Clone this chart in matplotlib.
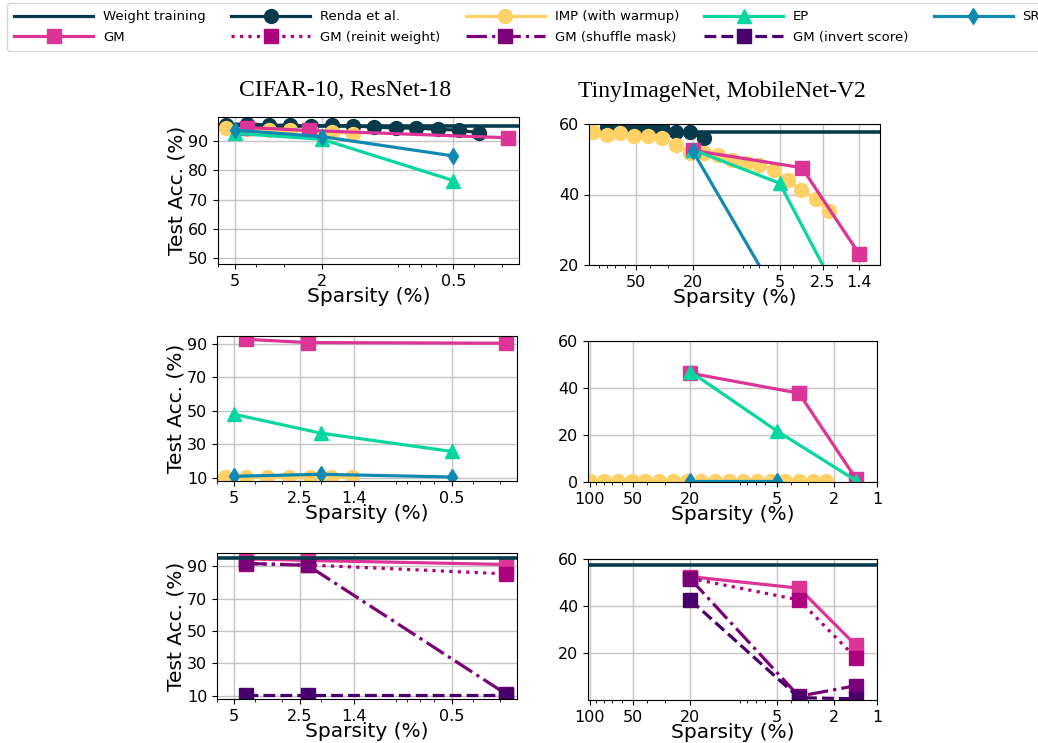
import matplotlib
matplotlib.use("Agg")
import matplotlib.pyplot as plt
from matplotlib.ticker import NullFormatter
from matplotlib.lines import Line2D

# ---------------- data ----------------
# colours
C_WT = "#073B4C"
C_IMP = "#FFD166"
C_EP = "#06D6A0"
C_SR = "#118AB2"
C_GM = "#DD3497"
C_REINIT = "#AE017E"
C_SHUFFLE = "#7A0177"
C_INVERT = "#49006A"

# CIFAR-10, ResNet-18
cifar_wt = 95.1
cifar_renda_s = [5.5, 4.4, 3.52, 2.81, 2.25, 1.8, 1.44, 1.15, 0.92, 0.74, 0.59, 0.47, 0.38]
cifar_renda_acc = [95.6, 95.9, 95.4, 95.4, 95.1, 95.4, 95.1, 94.8, 94.4, 94.4, 94.0, 93.7, 92.8]
cifar_imp_s = [5.5, 4.4, 3.52, 2.81, 2.25, 1.8, 1.44]
cifar_imp_acc = [94.4, 94.0, 93.6, 93.6, 93.4, 93.1, 92.5]
cifar_ep_s = [5, 2, 0.5]
cifar_ep_acc = [92.6, 90.6, 76.5]
cifar_sr_s = [5, 2, 0.5]
cifar_sr_acc = [93.7, 91.5, 84.9]
cifar_gm_s = [4.4, 2.3, 0.28]
cifar_gm_acc = [94.6, 93.6, 91.1]

# CIFAR-10, no fine-tuning (row 2)
cifar2_imp_acc = [10.3, 10.4, 10.3, 10.4, 10.3, 10.4, 10.3]
cifar2_ep_acc = [47.9, 36.7, 25.8]
cifar2_sr_s = [5, 2, 0.5]
cifar2_sr_acc = [11.0, 12.2, 10.6]
cifar2_gm_acc = [92.5, 90.6, 90.2]

# CIFAR-10, sanity checks (row 3)
cifar3_reinit_acc = [91.6, 90.8, 85.3]
cifar3_shuffle_acc = [91.8, 90.6, 11.0]
cifar3_invert_acc = [10.4, 10.4, 10.4]

# TinyImageNet, MobileNet-V2
tiny_wt = 57.6
tiny_renda_s = [80, 64, 51.2, 41, 32.8, 26.2, 21, 16.8]
tiny_renda_acc = [59.2, 58.7, 59.2, 58.9, 59.2, 57.6, 57.7, 56.0]
tiny_imp_s = [100, 80, 64, 51.2, 41, 32.8, 26.2, 21, 16.8, 13.4, 10.7, 8.6, 6.9,
              5.5, 4.4, 3.52, 2.81, 2.25]
tiny_imp_acc = [57.6, 56.9, 57.4, 56.6, 56.6, 56.0, 54.1, 51.9, 51.7, 51.2, 49.8,
                48.9, 48.4, 47.0, 44.1, 41.3, 38.7, 35.2]
tiny_ep_s = [20, 5, 1.4]
tiny_ep_acc = [52.7, 43.2, 0.5]
tiny_sr_s = [20, 5]
tiny_sr_acc = [52.2, 10.0]
tiny_gm_s = [20, 3.5, 1.4]
tiny_gm_acc = [52.5, 47.6, 23.2]

tiny2_imp_acc = [0.5, 0.5, 0.5, 0.5, 0.5, 0.5, 0.5, 0.5, 0.5, 0.5, 0.5, 0.5, 0.5,
                 0.5, 0.5, 0.5, 0.5, 0.5]
tiny2_ep_acc = [47.0, 21.8, 0.6]
tiny2_sr_acc = [0.5, 0.5]
tiny2_gm_acc = [46.3, 37.8, 1.4]

tiny3_reinit_acc = [51.8, 42.6, 17.9]
tiny3_shuffle_acc = [51.6, 1.6, 6.1]
tiny3_invert_acc = [42.6, 1.0, 0.5]

# tick labels
cifar1_xt = [5, 2, 0.5]
cifar1_xtl = ["5", "2", "0.5"]
cifar23_xt = [5, 2.5, 1.4, 0.5]
cifar23_xtl = ["5", "2.5", "1.4", "0.5"]
tiny1_xt = [50, 20, 5, 2.5, 1.4]
tiny1_xtl = ["50", "20", "5", "2.5", "1.4"]
tiny23_xt = [100, 50, 20, 5, 2, 1]
tiny23_xtl = ["100", "50", "20", "5", "2", "1"]

LBL_WT = "Weight training"
LBL_RENDA = "Renda et al."
LBL_IMP = "IMP (with warmup)"
LBL_EP = "EP"
LBL_SR = "SR"
LBL_GM = "GM"
LBL_REINIT = "GM (reinit weight)"
LBL_SHUFFLE = "GM (shuffle mask)"
LBL_INVERT = "GM (invert score)"

# ---------------- figure ----------------
W, H = 1038, 743
fig = plt.figure(figsize=(W / 100, H / 100), dpi=100)
plt.rcParams["font.family"] = ["DejaVu Sans"]

LW = 2.3
MS = 10
MS_D = 8.5


def add_ax(x0, y0, x1, y1):
    return fig.add_axes([x0 / W, 1 - y1 / H, (x1 - x0) / W, (y1 - y0) / H])


def style(ax, xlim, ylim, xt, xtl, yt, ylabel=False):
    ax.set_xscale("log")
    ax.set_xlim(*xlim)
    ax.set_ylim(*ylim)
    ax.set_xticks(xt)
    ax.set_xticklabels(xtl)
    ax.xaxis.set_minor_formatter(NullFormatter())
    ax.set_yticks(yt)
    ax.set_yticklabels([str(v) for v in yt])
    ax.tick_params(axis="both", which="major", labelsize=11.5)
    ax.grid(True, which="major", color="#c4c4c4", lw=1.0)
    ax.set_axisbelow(True)
    ax.set_xlabel("Sparsity (%)", fontsize=14.5, labelpad=-1)
    if ylabel:
        ax.set_ylabel("Test Acc. (%)", fontsize=14.5, labelpad=1)


def hline(ax, y, z=2):
    ax.axhline(y, color=C_WT, lw=2.6, zorder=z)


def plot(ax, s, a, color, marker, ms=MS, ls="-", z=2):
    ax.plot(s, a, color=color, marker=marker, ms=ms, lw=LW, ls=ls, zorder=z)


# Row 1 left
ax = add_ax(218, 117, 519, 264)
hline(ax, cifar_wt)
plot(ax, cifar_renda_s, cifar_renda_acc, C_WT, "o")
plot(ax, cifar_imp_s, cifar_imp_acc, C_IMP, "o")
plot(ax, cifar_gm_s, cifar_gm_acc, C_GM, "s")
plot(ax, cifar_ep_s, cifar_ep_acc, C_EP, "^")
plot(ax, cifar_sr_s, cifar_sr_acc, C_SR, "d", ms=MS_D)
style(ax, (6, 0.25), (48, 98.2), cifar1_xt, cifar1_xtl, [50, 60, 70, 80, 90], ylabel=True)

# Row 1 right
ax = add_ax(589, 124, 880, 265)
hline(ax, tiny_wt)
plot(ax, tiny_renda_s, tiny_renda_acc, C_WT, "o")
plot(ax, tiny_imp_s, tiny_imp_acc, C_IMP, "o")
plot(ax, tiny_gm_s, tiny_gm_acc, C_GM, "s")
plot(ax, tiny_ep_s, tiny_ep_acc, C_EP, "^")
plot(ax, tiny_sr_s, tiny_sr_acc, C_SR, "d", ms=MS_D)
style(ax, (106, 1.0), (20, 60), tiny1_xt, tiny1_xtl, [20, 40, 60])

# Row 2 left
ax = add_ax(217, 336, 517, 481)
plot(ax, cifar_imp_s, cifar2_imp_acc, C_IMP, "o")
plot(ax, cifar_gm_s, cifar2_gm_acc, C_GM, "s")
plot(ax, cifar_ep_s, cifar2_ep_acc, C_EP, "^")
plot(ax, cifar2_sr_s, cifar2_sr_acc, C_SR, "d", ms=MS_D)
style(ax, (6, 0.25), (8.2, 94.5), cifar23_xt, cifar23_xtl, [10, 30, 50, 70, 90], ylabel=True)

# Row 2 right
ax = add_ax(588, 341, 877, 482)
plot(ax, tiny_imp_s, tiny2_imp_acc, C_IMP, "o")
plot(ax, tiny_gm_s, tiny2_gm_acc, C_GM, "s")
plot(ax, tiny_ep_s, tiny2_ep_acc, C_EP, "^")
plot(ax, tiny_sr_s, tiny2_sr_acc, C_SR, "d", ms=MS_D)
style(ax, (103, 1.0), (0, 60), tiny23_xt, tiny23_xtl, [0, 20, 40, 60])

# Row 3 left
ax = add_ax(217, 553, 517, 699)
plot(ax, cifar_gm_s, cifar_gm_acc, C_GM, "s")
plot(ax, cifar_gm_s, cifar3_reinit_acc, C_REINIT, "s", ls=":")
plot(ax, cifar_gm_s, cifar3_shuffle_acc, C_SHUFFLE, "s", ls="-.")
plot(ax, cifar_gm_s, cifar3_invert_acc, C_INVERT, "s", ls="--")
hline(ax, cifar_wt, z=3)
style(ax, (6, 0.25), (8, 98.2), cifar23_xt, cifar23_xtl, [10, 30, 50, 70, 90], ylabel=True)

# Row 3 right
ax = add_ax(588, 559, 877, 700)
plot(ax, tiny_gm_s, tiny_gm_acc, C_GM, "s")
plot(ax, tiny_gm_s, tiny3_reinit_acc, C_REINIT, "s", ls=":")
plot(ax, tiny_gm_s, tiny3_shuffle_acc, C_SHUFFLE, "s", ls="-.")
plot(ax, tiny_gm_s, tiny3_invert_acc, C_INVERT, "s", ls="--")
hline(ax, tiny_wt, z=3)
style(ax, (103, 1.0), (0, 60), tiny23_xt, tiny23_xtl, [20, 40, 60])

# titles
fig.text(345 / W, 1 - 91 / H, "CIFAR-10, ResNet-18", ha="center", va="center",
         fontsize=17, family="Liberation Serif")
fig.text(722 / W, 1 - 91 / H, "TinyImageNet, MobileNet-V2", ha="center", va="center",
         fontsize=17, family="Liberation Serif")


# legend (column-major order)
def h(color, marker=None, ls="-", ms=MS):
    return Line2D([], [], color=color, marker=marker, ls=ls, lw=LW, ms=ms)


handles = [h(C_WT), h(C_GM, "s"),
           h(C_WT, "o"), h(C_REINIT, "s", ":"),
           h(C_IMP, "o"), h(C_SHUFFLE, "s", "-."),
           h(C_EP, "^"), h(C_INVERT, "s", "--"),
           h(C_SR, "d", ms=MS_D)]
labels = [LBL_WT, LBL_GM, LBL_RENDA, LBL_REINIT, LBL_IMP, LBL_SHUFFLE,
          LBL_EP, LBL_INVERT, LBL_SR]
fig.legend(handles, labels, ncol=5, loc="upper left",
           bbox_to_anchor=(7 / W, 1 - 3 / H), fontsize=9.5,
           handlelength=6.0, handletextpad=0.75, columnspacing=1.9,
           borderaxespad=0.0, borderpad=0.55, labelspacing=0.55)

fig.savefig("out.png", dpi=100)
